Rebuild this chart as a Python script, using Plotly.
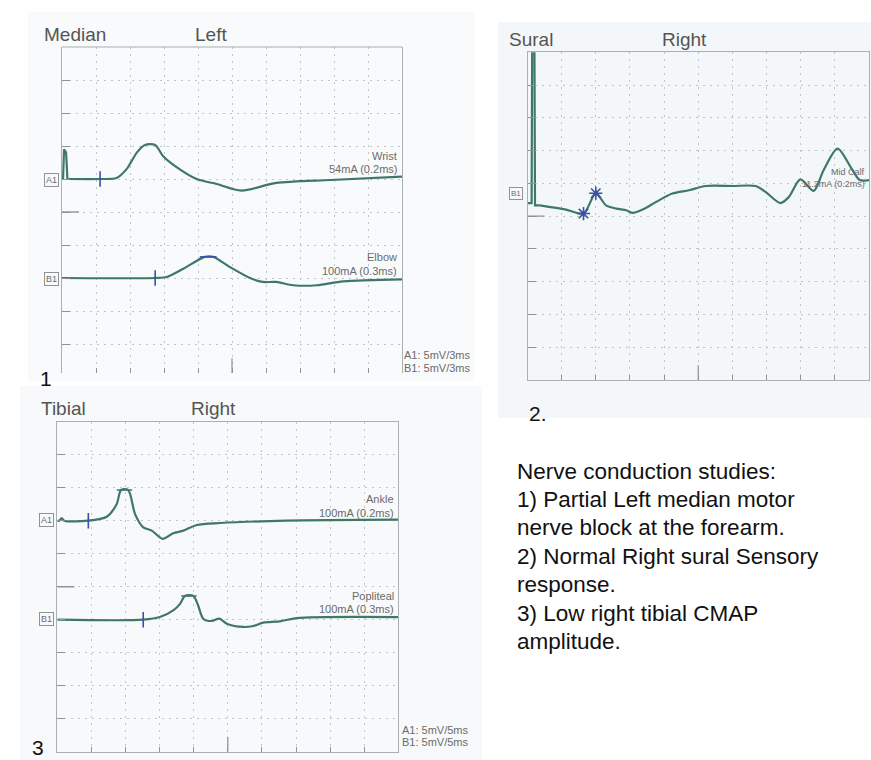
import plotly.graph_objects as go

W, H = 871, 760

# ---------------- data (time in divisions, amplitude in divisions) ----------------
# Panel 1: Median, Left (A1 baseline 6, B1 baseline 3)
p1_a1_base = 6
p1_a1_art_t = [0.0, 0.03, 0.06, 0.12, 0.16, 0.2]
p1_a1_art_v = [0.0, 0.0, 0.9, 0.8, 0.0, 0.0]
p1_a1_t = [0.2, 1.12, 1.6, 1.9, 2.2, 2.44, 2.74, 2.97, 3.37, 3.96, 4.55, 5.28, 6.3, 7.9, 10.0]
p1_a1_v = [0.0, 0.0, 0.03, 0.3, 0.8, 1.03, 1.03, 0.7, 0.36, 0.0, -0.15, -0.35, -0.12, -0.03, 0.07]
p1_a1_onset = (1.12, 0.0)

p1_b1_base = 3
p1_b1_t = [0.0, 2.74, 3.08, 3.57, 4.2, 4.45, 4.94, 5.53, 5.9, 6.3, 6.8, 7.5, 8.27, 10.0]
p1_b1_v = [0.0, 0.0, 0.03, 0.28, 0.64, 0.64, 0.33, 0.0, -0.12, -0.12, -0.22, -0.22, -0.1, -0.04]
p1_b1_onset = (2.74, 0.0)
p1_b1_peak = (4.3, 0.64)

# Panel 2: Sural, Right (B1)
p2_art_t = [0.0, 0.12, 0.14, 0.2, 0.22, 0.36]
p2_art_v = [5.4, 5.4, 11.0, 11.0, 5.33, 5.33]
p2_t = [0.36, 1.13, 1.64, 2.0, 2.3, 2.6, 2.89, 3.08, 3.37, 3.76, 4.24, 4.73, 5.22, 6.0,
        6.68, 6.97, 7.4, 7.65, 7.99, 8.38, 8.67, 9.08, 9.49, 9.73, 10.0]
p2_v = [5.33, 5.2, 5.08, 5.7, 5.33, 5.23, 5.18, 5.1, 5.2, 5.43, 5.69, 5.79, 5.92, 5.92,
        5.92, 5.74, 5.4, 5.58, 6.12, 5.77, 6.4, 7.06, 6.45, 6.1, 6.1]
p2_marks_t = [1.64, 2.0]
p2_marks_v = [5.08, 5.7]

# Panel 3: Tibial, Right (A1 baseline 7, B1 baseline 4)
p3_a1_base = 7
p3_a1_t = [0.0, 0.06, 0.13, 0.2, 0.91, 1.45, 1.74, 1.87, 2.08, 2.28, 2.52, 2.77, 3.09,
           3.4, 3.7, 4.09, 4.77, 6.73, 10.0]
p3_a1_v = [0.0, 0.0, 0.08, 0.0, 0.0, 0.12, 0.5, 0.93, 0.93, 0.2, -0.2, -0.3, -0.55,
           -0.38, -0.3, -0.13, -0.07, 0.0, 0.03]
p3_a1_onset = (0.91, 0.0)
p3_a1_peak = (1.97, 0.93)

p3_b1_base = 4
p3_b1_t = [0.0, 2.52, 3.01, 3.4, 3.6, 3.74, 3.99, 4.13, 4.28, 4.53, 4.75, 4.97, 5.45,
           5.75, 6.04, 6.53, 7.02, 10.0]
p3_b1_v = [0.0, 0.0, 0.08, 0.28, 0.48, 0.72, 0.72, 0.43, 0.03, -0.04, 0.03, -0.12, -0.22,
           -0.19, -0.09, -0.05, 0.05, 0.08]
p3_b1_onset = (2.52, 0.0)
p3_b1_peak = (3.86, 0.72)

summary_lines = [
    "Nerve conduction studies:",
    "1) Partial Left median motor",
    "nerve block at the forearm.",
    "2) Normal Right sural Sensory",
    "response.",
    "3) Low right tibial CMAP",
    "amplitude.",
]

# ---------------- styling ----------------
TRACE = "#3f7769"
BLUE = "#3a4fa8"
GRID = "#bfc5c9"
BOX = "#a9afb3"
LABEL = "#555555"
SMALL = "#6b6b6b"
FONT = "Liberation Sans, Arial, sans-serif"


def fx(x):
    return x / W


def fy(y):
    return 1 - y / H


fig = go.Figure()


def add_line(t, v, base, ax, shape="spline"):
    fig.add_trace(go.Scatter(
        x=t, y=[base + a for a in v], mode="lines",
        line=dict(color=TRACE, width=2.2, shape=shape, smoothing=0.8),
        xaxis="x" + ax, yaxis="y" + ax, hoverinfo="skip", showlegend=False))


def add_mark(pt, base, ax, symbol, size=11, color=BLUE):
    fig.add_trace(go.Scatter(
        x=[pt[0]], y=[base + pt[1]], mode="markers",
        marker=dict(symbol=symbol, size=size, color=color,
                    line=dict(color=color, width=1.6)),
        xaxis="x" + ax, yaxis="y" + ax, hoverinfo="skip", showlegend=False))


# panel 1
add_line(p1_a1_art_t, p1_a1_art_v, p1_a1_base, "", shape="linear")
add_line(p1_a1_t, p1_a1_v, p1_a1_base, "")
add_mark(p1_a1_onset, p1_a1_base, "", "line-ns")
add_line(p1_b1_t, p1_b1_v, p1_b1_base, "")
add_mark(p1_b1_onset, p1_b1_base, "", "line-ns")
add_mark(p1_b1_peak, p1_b1_base, "", "line-ew", size=12)

# panel 2
add_line(p2_art_t, p2_art_v, 0, "2", shape="linear")
add_line(p2_t, p2_v, 0, "2")
for t, v in zip(p2_marks_t, p2_marks_v):
    add_mark((t, v), 0, "2", "asterisk", size=11)

# panel 3
add_line(p3_a1_t, p3_a1_v, p3_a1_base, "3")
add_mark(p3_a1_onset, p3_a1_base, "3", "line-ns")
add_mark(p3_a1_peak, p3_a1_base, "3", "line-ew", size=11, color="#46708a")
add_line(p3_b1_t, p3_b1_v, p3_b1_base, "3")
add_mark(p3_b1_onset, p3_b1_base, "3", "line-ns")
add_mark(p3_b1_peak, p3_b1_base, "3", "line-ew", size=11, color="#46708a")

# ---------------- axes ----------------
panels = {
    "": dict(x0=62, x1=402, y0=47, y1=373, ymin=10 - (373 - 47) / 33.0, box=False),
    "2": dict(x0=527.5, x1=869, y0=52.3, y1=380, ymin=0, box=True),
    "3": dict(x0=57.3, x1=398.3, y0=421.7, y1=751.7, ymin=0, box=True),
}
layout_axes = {}
shapes = []
for key, p in panels.items():
    common = dict(showgrid=True, gridcolor=GRID, griddash="2px,5px", gridwidth=1,
                  zeroline=False, showticklabels=False, tickcolor="#8d9397",
                  ticks="inside", dtick=1, tick0=0, fixedrange=True)
    layout_axes["xaxis" + key] = dict(
        common, domain=[fx(p["x0"]), fx(p["x1"])], range=[0, 10], ticklen=5,
        showline=p["box"], linecolor=BOX, mirror=p["box"],
        anchor="y" + key)
    layout_axes["yaxis" + key] = dict(
        common, domain=[fy(p["y1"]), fy(p["y0"])], range=[p["ymin"], 10], ticklen=8,
        showline=True, linecolor=BOX, mirror=True,
        anchor="x" + key)
    xr, yr = "x" + key, "y" + key
    if not p["box"]:
        shapes.append(dict(type="line", xref=xr + " domain", yref=yr + " domain",
                           x0=0, x1=1, y0=1, y1=1, line=dict(color=BOX, width=1)))
    # taller centre tick at the bottom and longer separator tick at the left
    shapes.append(dict(type="line", xref=xr, yref=yr, x0=5, x1=5,
                       y0=p["ymin"], y1=p["ymin"] + 0.45,
                       line=dict(color="#8d9397", width=1.2)))
    shapes.append(dict(type="line", xref=xr, yref=yr, x0=0, x1=0.5, y0=5, y1=5,
                       line=dict(color="#8d9397", width=1.4)))

# photo backgrounds
for (a, b, c, d, col) in [(28, 12, 474, 382, "#f8fafb"),
                          (498, 22, 871, 418, "#f4f7f9"),
                          (20, 386, 482, 760, "#f7f9fa")]:
    shapes.insert(0, dict(type="rect", xref="paper", yref="paper", layer="below",
                          x0=fx(a), x1=fx(c), y0=fy(d), y1=fy(b),
                          fillcolor=col, line=dict(width=0)))

# ---------------- annotations ----------------
ann = []


def text(s, x, y, size, color, xanchor="left", box=False, family=FONT):
    a = dict(text=s, x=fx(x), y=fy(y), xref="paper", yref="paper", showarrow=False,
             xanchor=xanchor, yanchor="middle",
             font=dict(size=size, color=color, family=family))
    if box:
        a.update(bordercolor="#8d9397", borderwidth=1, borderpad=1, bgcolor="#f7fafb")
    ann.append(a)


# panel titles
text("Median", 42, 34, 19, LABEL)
text("Left", 211, 34, 19, LABEL, xanchor="center")
text("Sural", 507, 40, 19, LABEL)
text("Right", 684, 40, 19, LABEL, xanchor="center")
text("Tibial", 39, 409, 19, LABEL)
text("Right", 213, 409, 19, LABEL, xanchor="center")

# channel boxes
text("A1", 51, 180, 9, SMALL, xanchor="center", box=True)
text("B1", 51, 279, 9, SMALL, xanchor="center", box=True)
text("B1", 516, 193, 8, SMALL, xanchor="center", box=True)
text("A1", 46, 520, 9, SMALL, xanchor="center", box=True)
text("B1", 46, 619, 9, SMALL, xanchor="center", box=True)

# stimulus labels
text("Wrist", 399, 156, 11, SMALL, xanchor="right")
text("54mA (0.2ms)", 399, 169, 11, SMALL, xanchor="right")
text("Elbow", 399, 257, 11, SMALL, xanchor="right")
text("100mA (0.3ms)", 399, 271, 11, SMALL, xanchor="right")
text("A1: 5mV/3ms", 402, 355, 11, SMALL)
text("B1: 5mV/3ms", 402, 368, 11, SMALL)
text("Mid Calf", 867, 172, 9, SMALL, xanchor="right")
text("11.2mA (0.2ms)", 867, 184, 9, SMALL, xanchor="right")
text("Ankle", 396, 499, 11, SMALL, xanchor="right")
text("100mA (0.2ms)", 396, 513, 11, SMALL, xanchor="right")
text("Popliteal", 396, 596, 11, SMALL, xanchor="right")
text("100mA (0.3ms)", 396, 609, 11, SMALL, xanchor="right")
text("A1: 5mV/5ms", 400, 730, 11, SMALL)
text("B1: 5mV/5ms", 400, 742, 11, SMALL)

# panel numbers
text("1", 38, 378, 21, "#111111")
text("2.", 527, 413, 21, "#111111")
text("3", 30, 747, 21, "#111111")

# summary
line_y = [471, 499, 527, 556, 584, 613, 641]
for s, y in zip(summary_lines, line_y):
    text(s, 515, y, 22.5, "#111111")

fig.update_layout(
    width=W, height=H, margin=dict(l=0, r=0, t=0, b=0),
    paper_bgcolor="white", plot_bgcolor="rgba(0,0,0,0)",
    showlegend=False, shapes=shapes, annotations=ann,
    **layout_axes,
)

fig.write_html("out.html", config={"displayModeBar": False},
               post_script="document.body.style.margin='0';document.body.style.padding='0';")
